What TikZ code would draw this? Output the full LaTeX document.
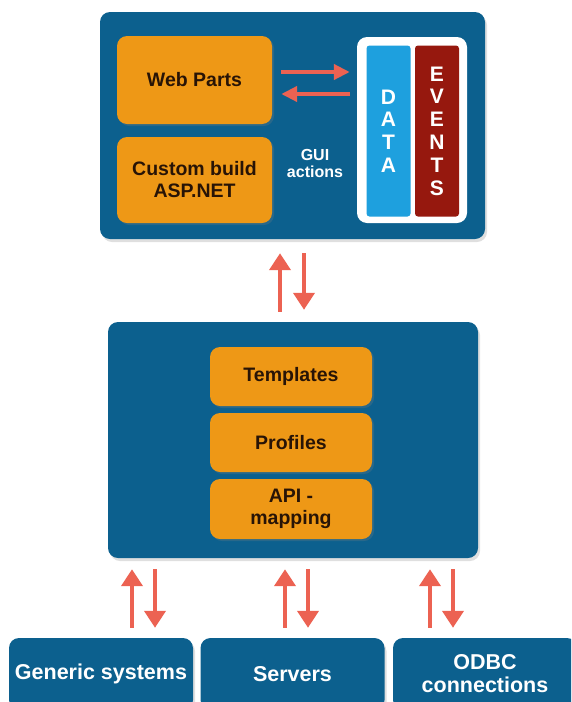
\documentclass[tikz,border=0pt]{standalone}
\usepackage{fontspec}
\setmainfont{Liberation Sans}
\usetikzlibrary{arrows.meta}
\usetikzlibrary{shadows}
\definecolor{panelblue}{RGB}{12,96,142}
\definecolor{partorange}{RGB}{238,152,22}
\definecolor{datablue}{RGB}{30,160,222}
\definecolor{eventred}{RGB}{150,24,14}
\definecolor{flowred}{RGB}{236,98,82}
\definecolor{ink}{RGB}{40,20,6}
\tikzset{panel/.style={fill=panelblue,rounded corners=10pt,inner sep=0pt,
  drop shadow={opacity=0.25,shadow xshift=2pt,shadow yshift=-3pt}},
 part/.style={fill=partorange,rounded corners=10pt,inner sep=0pt,text=ink,align=center,
  font=\fontsize{19.5}{22}\selectfont\bfseries,minimum width=162pt,minimum height=59pt,
  drop shadow={opacity=0.25,shadow xshift=2pt,shadow yshift=-2pt}},
 outbox/.style={panel,text=white,align=center,font=\fontsize{21.5}{23}\selectfont\bfseries,
  minimum width=184pt,minimum height=72pt},
 bar/.style={text=white,align=center,rounded corners=3pt,inner sep=0pt,
  font=\fontsize{21}{22.8}\selectfont\bfseries,minimum width=44pt,minimum height=171pt},
 flow/.style={draw=flowred,line width=4pt,-{Triangle[width=21pt,length=17pt]}},
 flowh/.style={draw=flowred,line width=4pt,-{Triangle[width=15pt,length=16pt]}},
 }

\begin{document}
\begin{tikzpicture}[x=1pt,y=-1pt]
        \useasboundingbox (0,0) rectangle (571,702);
        \clip (0,0) rectangle (571,702);
        \node[panel,minimum width=385pt,minimum height=227pt] (gui) at (292.5,125.5) {};
        \node[part,minimum width=155pt,minimum height=88pt] (web) at (194.5,80) {Web Parts};
        \node[part,minimum width=155pt,minimum height=86pt] (asp) at (194.5,180) {Custom build\\ASP.NET};
        \node[fill=white,rounded corners=10pt,minimum width=110pt,minimum height=186pt] (store) at (412,130) {};
        \node[bar,fill=datablue] (data) at (388.5,131) {D\\A\\T\\A};
        \node[bar,fill=eventred] (events) at (437,131) {E\\V\\E\\N\\T\\S};
        \node[text=white,align=center,font=\fontsize{16}{17}\selectfont\bfseries] (act) at (315,163.5) {GUI\\actions};
        \draw[flowh,shorten <=9pt,shorten >=7pt] ([yshift=8pt]web.east) -- ([yshift=8pt]web.east -| store.west);
        \draw[flowh,shorten <=7pt,shorten >=9pt] ([yshift=-14pt]web.east -| store.west) -- ([yshift=-14pt]web.east);

        \node[panel,minimum width=370pt,minimum height=236pt] (core) at (293,440) {};
        \node[part] (tpl) at (291,376.5) {Templates};
        \node[part] (prof) at (291,442.5) {Profiles};
        \node[part,minimum height=60pt] (api) at (291,509) {API -\\mapping};
        \draw[flow,shorten <=10pt,shorten >=14pt] ([xshift=-13pt]core.north) -- ([xshift=-13pt]core.north |- gui.south);
        \draw[flow,shorten <=14pt,shorten >=12pt] ([xshift=11.5pt]gui.south) -- ([xshift=11.5pt]gui.south |- core.north);

        \node[outbox] (gen) at (101,674) {Generic systems};
        \node[outbox] (srv) at (292.5,674) {Servers};
        \node[outbox] (odbc) at (485,674) {ODBC\\connections};
        \draw[flow,shorten <=10pt,shorten >=11pt] ([xshift=31pt]gen.north) -- ([xshift=31pt]gen.north |- core.south);
        \draw[flow,shorten <=11pt,shorten >=10pt] ([xshift=54pt]gen.north |- core.south) -- ([xshift=54pt]gen.north);
        \draw[flow,shorten <=10pt,shorten >=11pt] ([xshift=-7.5pt]srv.north) -- ([xshift=-7.5pt]srv.north |- core.south);
        \draw[flow,shorten <=11pt,shorten >=10pt] ([xshift=15.5pt]srv.north |- core.south) -- ([xshift=15.5pt]srv.north);
        \draw[flow,shorten <=10pt,shorten >=11pt] ([xshift=-55pt]odbc.north) -- ([xshift=-55pt]odbc.north |- core.south);
        \draw[flow,shorten <=11pt,shorten >=10pt] ([xshift=-32pt]odbc.north |- core.south) -- ([xshift=-32pt]odbc.north);
    \end{tikzpicture}
\end{document}
